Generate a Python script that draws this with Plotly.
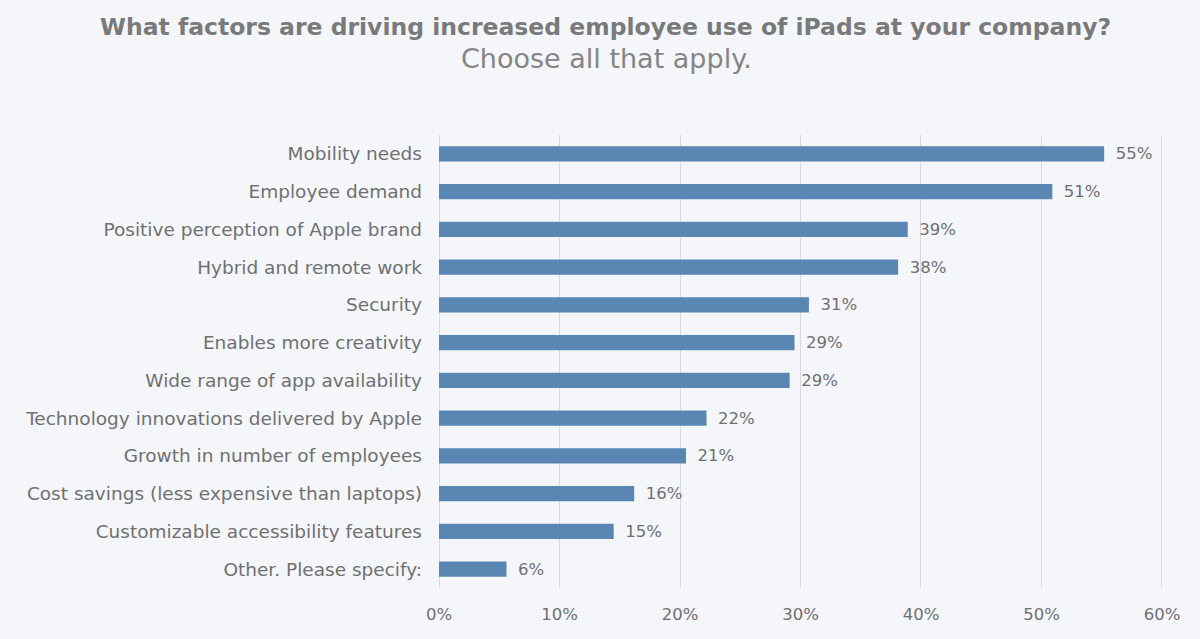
import plotly.graph_objects as go

categories = [
    "Mobility needs",
    "Employee demand",
    "Positive perception of Apple brand",
    "Hybrid and remote work",
    "Security",
    "Enables more creativity",
    "Wide range of app availability",
    "Technology innovations delivered by Apple",
    "Growth in number of employees",
    "Cost savings (less expensive than laptops)",
    "Customizable accessibility features",
    "Other. Please specify:",
]
values = [55.2, 50.9, 38.9, 38.1, 30.7, 29.5, 29.1, 22.2, 20.5, 16.2, 14.5, 5.6]
labels = ["55%", "51%", "39%", "38%", "31%", "29%", "29%", "22%", "21%", "16%", "15%", "6%"]
x_ticks = [0, 10, 20, 30, 40, 50, 60]
x_tick_labels = ["0%", "10%", "20%", "30%", "40%", "50%", "60%"]
title_text = "What factors are driving increased employee use of iPads at your company?"
subtitle_text = "Choose all that apply."

TEXT = "#707070"
FONT = "DejaVu Sans"
GRID = "#d8dadf"

W, H = 1200, 639
ML, MR, MT, MB = 439, 35, 135, 51
PW, PH = W - ML - MR, H - MT - MB


def px(xp):
    return (xp - ML) / PW


def py(yp):
    return 1 + (MT - yp) / PH


fig = go.Figure(
    go.Bar(
        x=values,
        y=categories,
        orientation="h",
        marker=dict(color="#5a86b3", line=dict(width=0)),
        text=["\u00a0\u2009" + t for t in labels],
        textposition="outside",
        constraintext="none",
        textfont=dict(family=FONT, size=16.5, color=TEXT),
        cliponaxis=False,
        hoverinfo="skip",
    )
)

fig.update_layout(
    width=W,
    height=H,
    paper_bgcolor="#f4f6fa",
    plot_bgcolor="#f4f6fa",
    margin=dict(l=ML, r=MR, t=MT, b=MB),
    bargap=0.6,
    showlegend=False,
    xaxis=dict(
        range=[0, 60.25],
        tickvals=x_ticks,
        ticktext=x_tick_labels,
        showgrid=True,
        gridcolor=GRID,
        gridwidth=1,
        zeroline=True,
        zerolinecolor=GRID,
        zerolinewidth=1,
        showline=False,
        tickfont=dict(family=FONT, size=16.5, color=TEXT),
        ticks="",
        ticklabelstandoff=14,
        fixedrange=True,
    ),
    yaxis=dict(
        autorange="reversed",
        showgrid=False,
        zeroline=False,
        showline=False,
        tickfont=dict(family=FONT, size=18.5, color=TEXT),
        ticks="",
        ticklabelstandoff=16,
        fixedrange=True,
    ),
    annotations=[
        dict(
            text="<b>" + title_text + "</b>",
            xref="paper", yref="paper",
            x=px(605), y=py(27),
            xanchor="center", yanchor="middle",
            showarrow=False,
            font=dict(family=FONT, size=23.5, color="#7a7a7a"),
        ),
        dict(
            text=subtitle_text,
            xref="paper", yref="paper",
            x=px(606), y=py(58),
            xanchor="center", yanchor="middle",
            showarrow=False,
            font=dict(family=FONT, size=27, color="#858585"),
        ),
    ],
)

fig.write_html(
    "out.html",
    config={"displayModeBar": False},
    post_script="document.body.style.margin='0';document.body.style.overflow='hidden';",
)
